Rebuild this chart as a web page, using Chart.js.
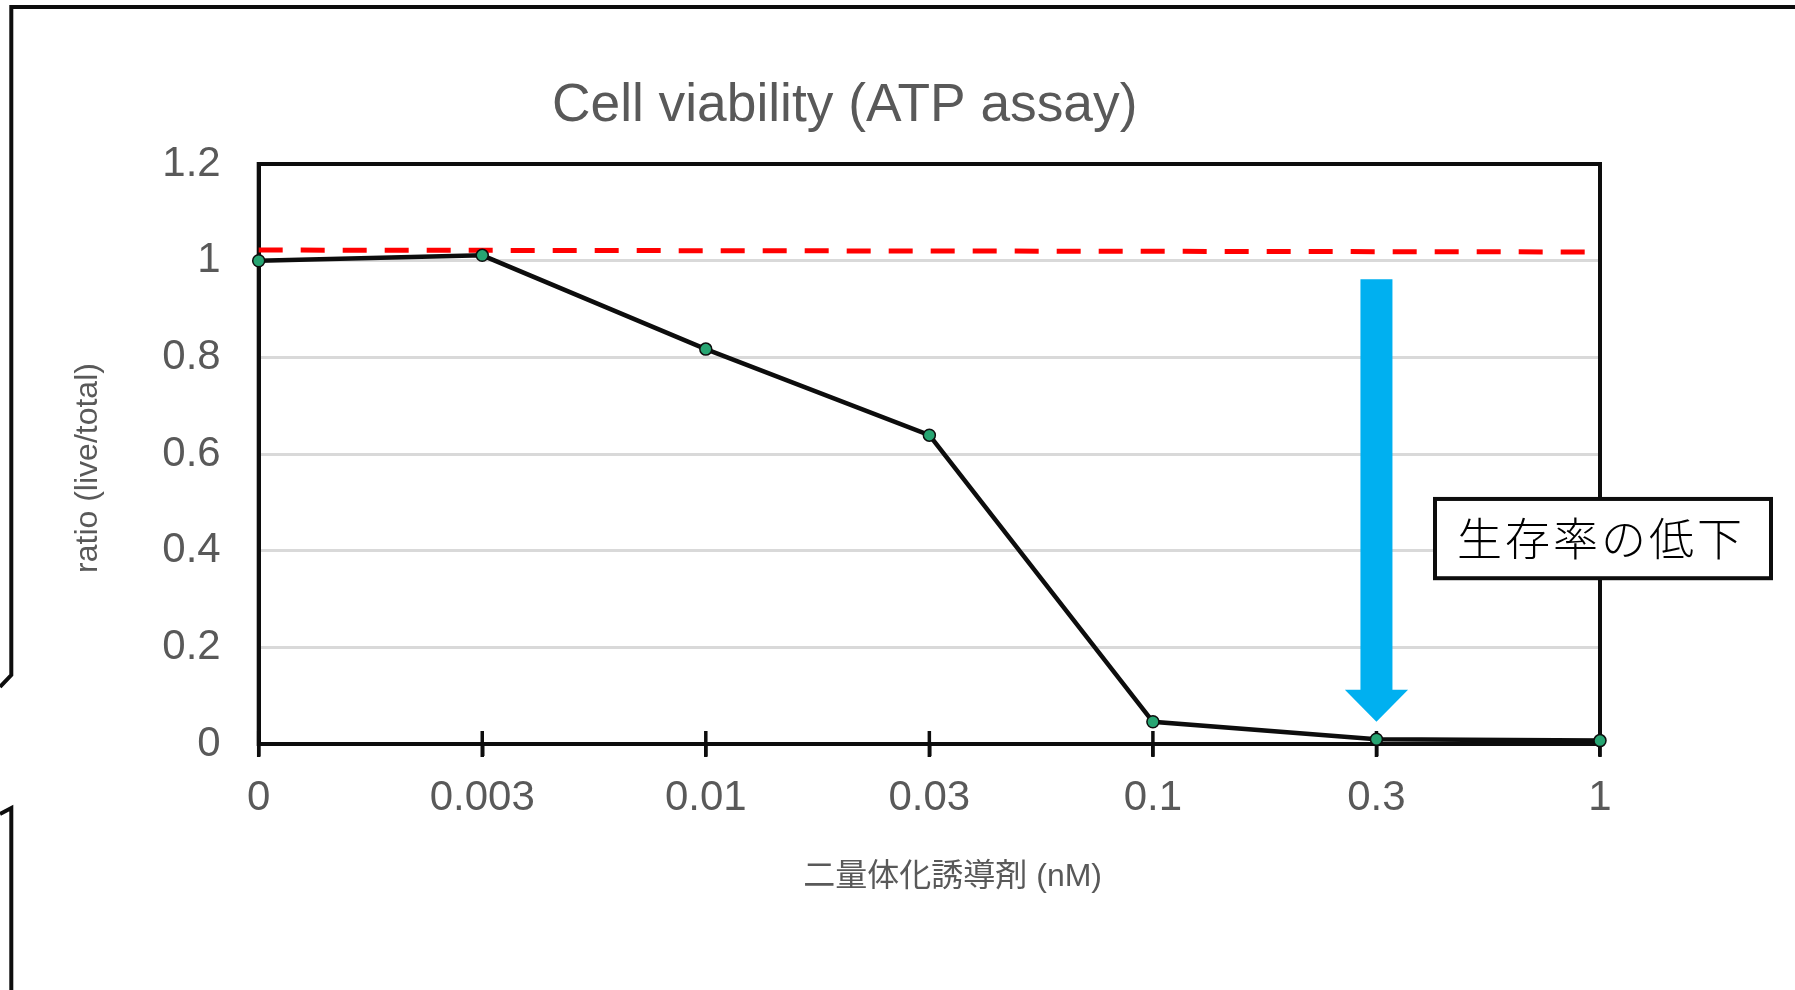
<!DOCTYPE html>
<html>
<head>
<meta charset="utf-8">
<script src="https://cdn.jsdelivr.net/npm/chart.js@4.4.1/dist/chart.umd.min.js"></script>
<style>
  body { margin: 0; background: #fff; }
  #wrap { width: 1795px; height: 990px; position: relative; }
</style>
</head>
<body>
<div id="wrap"><canvas id="viability" width="1795" height="990"></canvas></div>
<script>
// data
const doses = ['0', '0.003', '0.01', '0.03', '0.1', '0.3', '1'];
const viability = [1.0, 1.011, 0.817, 0.639, 0.046, 0.010, 0.007];
// reference level (red dashed), only the two ends are given
const baseline = [1.022, null, null, null, null, null, 1.018];
const yTicks = [0, 0.2, 0.4, 0.6, 0.8, 1, 1.2];

const titleText = 'Cell viability (ATP assay)';
const xTitle = '二量体化誘導剤 (nM)';
const yTitle = 'ratio (live/total)';
const noteText = '生存率の低下';

// arrow goes from ~0.96 down to the 0.3 nM point
const arrowDose = '0.3';
const arrowTop = 0.9615;
const arrowHeadTop = 0.112;
const arrowTip = 0.046;

const grey = '#595959';
const ink = '#0D0D0D';
const fontFam = "'Liberation Sans', 'Noto Sans CJK JP', Arial, sans-serif";

const ctx = document.getElementById('viability');

// draws the frame, box border, crossing ticks, arrow, note and titles
const decor = {
  id: 'decor',
  beforeDraw(chart) {
    const c = chart.ctx;
    c.save();
    c.fillStyle = '#fff';
    c.fillRect(0, 0, chart.width, chart.height);
    // outer callout frame
    c.strokeStyle = ink;
    c.lineWidth = 4;
    c.lineJoin = 'miter';
    c.beginPath();
    c.moveTo(0, 687);
    c.lineTo(11.3, 675);
    c.lineTo(11.3, 7);
    c.lineTo(chart.width, 7);
    c.stroke();
    c.beginPath();
    c.moveTo(0, 814);
    c.lineTo(11.3, 808);
    c.lineTo(11.3, chart.height);
    c.stroke();
    c.restore();
  },
  beforeDatasetsDraw(chart) {
    const c = chart.ctx;
    const a = chart.chartArea;
    const xs = chart.scales.x;
    c.save();
    c.strokeStyle = ink;
    c.lineWidth = 4;
    c.strokeRect(a.left, a.top, a.right - a.left, a.bottom - a.top);
    // tick marks cross the x axis
    c.lineWidth = 3.5;
    xs.ticks.forEach((t, i) => {
      const px = xs.getPixelForTick(i);
      c.beginPath();
      c.moveTo(px, a.bottom - 13);
      c.lineTo(px, a.bottom + 13);
      c.stroke();
    });
    c.restore();
  },
  afterDatasetsDraw(chart) {
    const c = chart.ctx;
    const a = chart.chartArea;
    const xs = chart.scales.x;
    const ys = chart.scales.y;
    c.save();

    // blue arrow
    const ax = xs.getPixelForValue(doses.indexOf(arrowDose));
    const yT = ys.getPixelForValue(arrowTop);
    const yH = ys.getPixelForValue(arrowHeadTop);
    const yP = ys.getPixelForValue(arrowTip);
    c.fillStyle = '#00B0F0';
    c.beginPath();
    c.moveTo(ax - 16, yT);
    c.lineTo(ax + 16, yT);
    c.lineTo(ax + 16, yH);
    c.lineTo(ax + 31.6, yH);
    c.lineTo(ax, yP);
    c.lineTo(ax - 31.6, yH);
    c.lineTo(ax - 16, yH);
    c.closePath();
    c.fill();

    // note box
    const bx = a.right - 165;
    const by = ys.getPixelForValue(0.507);
    const bw = 336;
    const bh = ys.getPixelForValue(0.343) - by;
    c.fillStyle = '#fff';
    c.fillRect(bx, by, bw, bh);
    c.strokeStyle = ink;
    c.lineWidth = 4;
    c.strokeRect(bx, by, bw, bh);
    c.fillStyle = '#000';
    c.font = "300 45px 'Noto Sans CJK JP', sans-serif";
    c.textAlign = 'center';
    c.textBaseline = 'middle';
    if ('letterSpacing' in c) c.letterSpacing = '3px';
    c.fillText(noteText, bx + bw / 2 - 2, by + bh / 2);
    if ('letterSpacing' in c) c.letterSpacing = '0px';

    // titles
    c.fillStyle = grey;
    c.font = '53.3px ' + fontFam;
    c.fillText(titleText, a.left + 586, 106.5);
    c.font = '32px ' + fontFam;
    c.fillText(xTitle, a.left + 694, a.bottom + 133);
    c.translate(88, (a.top + a.bottom) / 2 + 14);
    c.rotate(-Math.PI / 2);
    c.fillText(yTitle, 0, 0);
    c.restore();
  }
};

new Chart(ctx, {
  type: 'line',
  data: {
    labels: doses,
    datasets: [
      {
        label: 'viability',
        data: viability,
        borderColor: ink,
        borderWidth: 4.5,
        tension: 0,
        pointRadius: 6,
        pointBackgroundColor: '#27A572',
        pointBorderColor: ink,
        pointBorderWidth: 1.5,
        clip: false,
        order: 1
      },
      {
        label: 'control',
        data: baseline,
        spanGaps: true,
        borderColor: '#FF0000',
        borderWidth: 5,
        borderDash: [24, 18],
        borderCapStyle: 'butt',
        pointRadius: 0,
        clip: false,
        order: 2
      }
    ]
  },
  options: {
    responsive: false,
    animation: false,
    devicePixelRatio: 1,
    layout: { padding: { top: 164, right: 195, bottom: 0, left: 0 } },
    plugins: {
      legend: { display: false },
      title: { display: false },
      tooltip: { enabled: false }
    },
    scales: {
      x: {
        type: 'category',
        offset: false,
        afterFit: (s) => { s.height = 246; },
        grid: {
          display: true,
          drawOnChartArea: false,
          drawTicks: true,
          tickLength: 12,
          color: ink,
          lineWidth: 3.5
        },
        border: { display: true, color: ink, width: 4 },
        ticks: {
          color: grey,
          font: { size: 42, family: fontFam },
          padding: 17,
          maxRotation: 0,
          autoSkip: false
        }
      },
      y: {
        min: 0,
        max: 1.2,
        afterFit: (s) => { s.width = 258.7; },
        afterBuildTicks: (s) => { s.ticks = yTicks.map(v => ({ value: v })); },
        grid: {
          drawTicks: false,
          color: (c) => (c.tick && (c.tick.value === 0 || c.tick.value === 1.2)) ? 'rgba(0,0,0,0)' : '#D9D9D9',
          lineWidth: 3
        },
        border: { display: true, color: ink, width: 4 },
        ticks: {
          color: grey,
          font: { size: 42, family: fontFam },
          padding: 38,
          callback: (v) => String(Math.round(v * 10) / 10)
        }
      }
    }
  },
  plugins: [decor]
});
</script>
</body>
</html>
